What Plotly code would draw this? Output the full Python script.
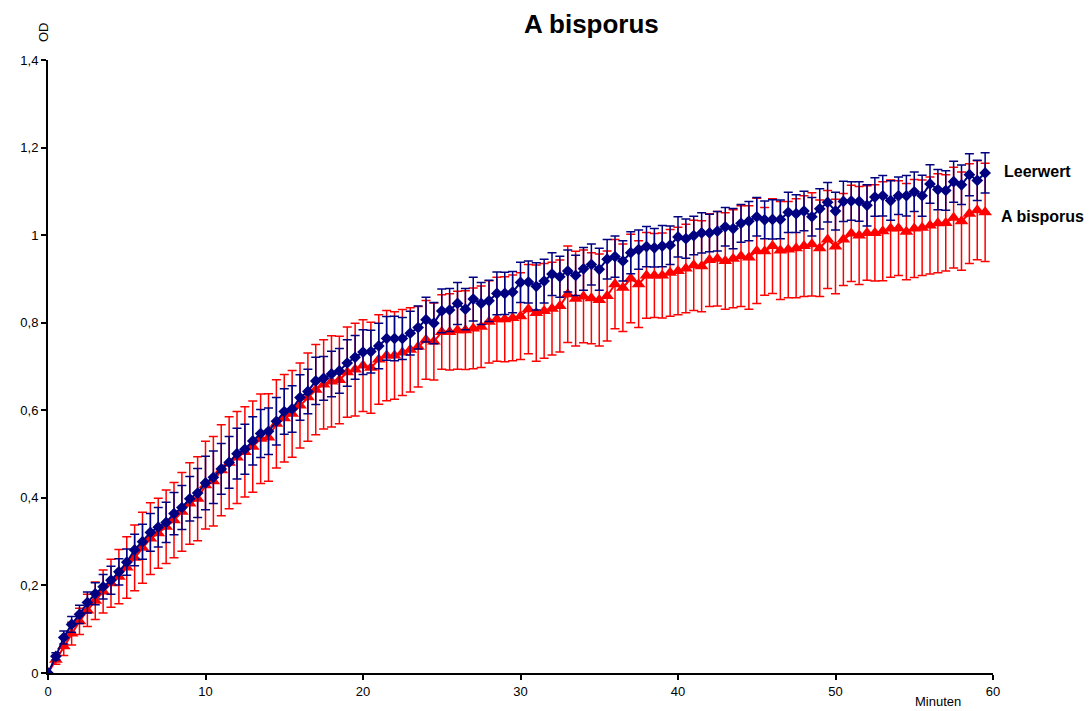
import plotly.graph_objects as go

# Time axis: one reading every half minute
minutes = [i * 0.5 for i in range(120)]

# Mean optical density, blank (Leerwert)
leerwert = [
    0.000, 0.038, 0.081, 0.111, 0.134, 0.161, 0.181, 0.197, 0.212, 0.231,
    0.253, 0.281, 0.300, 0.321, 0.333, 0.344, 0.364, 0.378, 0.398, 0.411,
    0.434, 0.447, 0.466, 0.481, 0.501, 0.511, 0.530, 0.547, 0.552, 0.575,
    0.597, 0.603, 0.629, 0.643, 0.667, 0.673, 0.683, 0.690, 0.708, 0.721,
    0.733, 0.734, 0.747, 0.764, 0.764, 0.764, 0.776, 0.789, 0.807, 0.799,
    0.827, 0.829, 0.844, 0.831, 0.854, 0.844, 0.850, 0.867, 0.867, 0.870,
    0.892, 0.893, 0.883, 0.895, 0.911, 0.905, 0.918, 0.908, 0.923, 0.933,
    0.922, 0.945, 0.951, 0.941, 0.960, 0.967, 0.974, 0.971, 0.975, 0.977,
    0.996, 0.992, 0.999, 1.005, 1.005, 1.009, 1.019, 1.015, 1.027, 1.032,
    1.042, 1.035, 1.036, 1.036, 1.052, 1.049, 1.055, 1.042, 1.060, 1.075,
    1.055, 1.077, 1.078, 1.077, 1.068, 1.087, 1.090, 1.079, 1.090, 1.090,
    1.099, 1.090, 1.117, 1.104, 1.102, 1.122, 1.115, 1.138, 1.125, 1.142,
]
leerwert_err = [
    0.000, 0.008, 0.015, 0.018, 0.021, 0.024, 0.025, 0.028, 0.032, 0.030,
    0.030, 0.036, 0.040, 0.043, 0.045, 0.046, 0.048, 0.050, 0.051, 0.056,
    0.061, 0.060, 0.058, 0.059, 0.058, 0.057, 0.055, 0.055, 0.053, 0.054,
    0.052, 0.053, 0.052, 0.051, 0.054, 0.050, 0.052, 0.051, 0.053, 0.050,
    0.051, 0.049, 0.052, 0.050, 0.051, 0.048, 0.050, 0.049, 0.051, 0.047,
    0.050, 0.049, 0.048, 0.047, 0.050, 0.048, 0.047, 0.049, 0.048, 0.047,
    0.046, 0.048, 0.054, 0.050, 0.049, 0.047, 0.048, 0.046, 0.049, 0.047,
    0.048, 0.045, 0.047, 0.046, 0.048, 0.045, 0.046, 0.044, 0.047, 0.044,
    0.046, 0.045, 0.044, 0.046, 0.043, 0.045, 0.044, 0.046, 0.043, 0.045,
    0.044, 0.043, 0.045, 0.044, 0.046, 0.043, 0.045, 0.044, 0.046, 0.045,
    0.043, 0.046, 0.044, 0.045, 0.047, 0.044, 0.046, 0.045, 0.043, 0.046,
    0.045, 0.047, 0.044, 0.046, 0.045, 0.047, 0.045, 0.048, 0.046, 0.046,
]

# Mean optical density, A. bisporus sample
bisporus = [
    0.000, 0.030, 0.061, 0.090, 0.118, 0.143, 0.165, 0.186, 0.205, 0.220,
    0.241, 0.263, 0.286, 0.307, 0.319, 0.334, 0.349, 0.368, 0.387, 0.398,
    0.429, 0.438, 0.463, 0.480, 0.492, 0.505, 0.517, 0.535, 0.538, 0.569,
    0.582, 0.592, 0.611, 0.630, 0.647, 0.659, 0.666, 0.669, 0.687, 0.693,
    0.702, 0.697, 0.716, 0.725, 0.725, 0.732, 0.738, 0.745, 0.761, 0.757,
    0.779, 0.779, 0.783, 0.783, 0.787, 0.791, 0.802, 0.808, 0.808, 0.811,
    0.815, 0.831, 0.822, 0.827, 0.832, 0.838, 0.865, 0.855, 0.860, 0.856,
    0.852, 0.861, 0.888, 0.880, 0.901, 0.888, 0.908, 0.908, 0.908, 0.914,
    0.918, 0.924, 0.931, 0.929, 0.943, 0.946, 0.941, 0.946, 0.952, 0.949,
    0.964, 0.963, 0.975, 0.965, 0.967, 0.970, 0.975, 0.979, 0.970, 0.990,
    0.974, 0.990, 1.004, 0.999, 1.005, 1.005, 1.009, 1.015, 1.016, 1.008,
    1.015, 1.017, 1.022, 1.027, 1.028, 1.040, 1.032, 1.049, 1.057, 1.052,
]
bisporus_err = [
    0.000, 0.010, 0.021, 0.026, 0.030, 0.037, 0.043, 0.049, 0.055, 0.062,
    0.070, 0.075, 0.081, 0.082, 0.080, 0.084, 0.086, 0.090, 0.093, 0.096,
    0.100, 0.102, 0.104, 0.105, 0.105, 0.103, 0.104, 0.102, 0.100, 0.101,
    0.100, 0.099, 0.097, 0.101, 0.103, 0.102, 0.104, 0.100, 0.103, 0.106,
    0.105, 0.104, 0.102, 0.103, 0.100, 0.098, 0.096, 0.092, 0.090, 0.088,
    0.085, 0.087, 0.089, 0.090, 0.092, 0.093, 0.094, 0.096, 0.097, 0.098,
    0.099, 0.102, 0.110, 0.108, 0.106, 0.105, 0.110, 0.108, 0.106, 0.104,
    0.105, 0.103, 0.102, 0.100, 0.101, 0.099, 0.098, 0.096, 0.097, 0.099,
    0.100, 0.101, 0.103, 0.104, 0.106, 0.108, 0.110, 0.112, 0.115, 0.118,
    0.120, 0.100, 0.108, 0.112, 0.110, 0.113, 0.115, 0.118, 0.110, 0.112,
    0.108, 0.105, 0.110, 0.112, 0.108, 0.110, 0.113, 0.111, 0.108, 0.110,
    0.112, 0.109, 0.111, 0.113, 0.110, 0.115, 0.112, 0.114, 0.113, 0.112,
]

x_ticks = [0, 10, 20, 30, 40, 50, 60]
y_ticks = [0, 0.2, 0.4, 0.6, 0.8, 1.0, 1.2, 1.4]

NAVY = "#000080"
RED = "#FF0000"
FONT = "Liberation Sans, Arial, sans-serif"

fig = go.Figure()

fig.add_trace(go.Scatter(
    x=minutes, y=bisporus, name="A bisporus", mode="lines+markers",
    line=dict(color=RED, width=2),
    marker=dict(symbol="triangle-up", size=12, color=RED),
    error_y=dict(type="data", array=bisporus_err, visible=True,
                 color=RED, thickness=1.5, width=4.5),
))
fig.add_trace(go.Scatter(
    x=minutes, y=leerwert, name="Leerwert", mode="lines+markers",
    line=dict(color=NAVY, width=2),
    marker=dict(symbol="diamond", size=9, color=NAVY),
    error_y=dict(type="data", array=leerwert_err, visible=True,
                 color=NAVY, thickness=1.5, width=4.5),
))

axis_common = dict(
    showline=True, linecolor="black", linewidth=2,
    ticks="outside", ticklen=5, tickwidth=2, tickcolor="black",
    showgrid=False, zeroline=False,
    tickfont=dict(family=FONT, size=13, color="black"),
)

fig.update_layout(
    width=1092, height=711,
    margin=dict(l=48, r=99, t=60, b=36),
    paper_bgcolor="white", plot_bgcolor="white",
    showlegend=False,
    separators=", ",
    font=dict(family=FONT, color="black"),
    xaxis=dict(range=[0, 60], tickvals=x_ticks, **axis_common),
    yaxis=dict(range=[0, 1.4], tickvals=y_ticks, tickformat=".1~f",
               **axis_common),
    annotations=[
        dict(text="<b>A bisporus</b>", xref="paper", yref="paper",
             x=0.575, y=1.0, yshift=36, xanchor="center", yanchor="middle",
             showarrow=False,
             font=dict(family=FONT, size=26, color="black")),
        dict(text="OD", xref="paper", yref="paper", x=0, y=1.0,
             xshift=-5, yshift=28, xanchor="center", yanchor="middle",
             textangle=-90, showarrow=False,
             font=dict(family=FONT, size=13, color="black")),
        dict(text="Minuten", xref="paper", yref="paper", x=0.942, y=0,
             yshift=-28, xanchor="center", yanchor="middle", showarrow=False,
             font=dict(family=FONT, size=13, color="black")),
        dict(text="<b>Leerwert</b>", xref="x", yref="y", x=60, y=1.145,
             xanchor="left", xshift=9, showarrow=False,
             font=dict(family=FONT, size=16, color="black")),
        dict(text="<b>A bisporus</b>", xref="x", yref="y", x=60, y=1.043,
             xanchor="left", xshift=6, showarrow=False,
             font=dict(family=FONT, size=16, color="black")),
    ],
)

fig.write_html("out.html")
